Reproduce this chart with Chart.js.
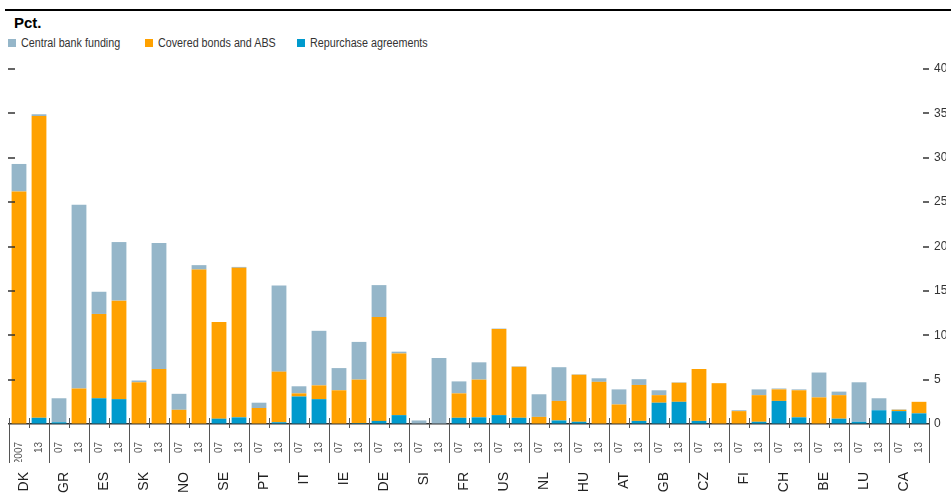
<!DOCTYPE html>
<html lang="en">
<head>
  <meta charset="UTF-8">
  <title>Funding by country</title>
  <script src="https://cdn.jsdelivr.net/npm/chart.js"></script>
  <style>
    body { margin: 0; background: #fff; font-family: 'Liberation Sans', Arial, sans-serif; }
    .wrap { position: relative; width: 951px; height: 502px; }
    .topline { position: absolute; left: 5px; right: 0; top: 9px; height: 2px; background: #000; }
    .unit { position: absolute; left: 14px; top: 14px; font: bold 15px 'Liberation Sans', Arial, sans-serif; color: #000; }
    .legend-item { position: absolute; top: 36px; height: 14px; line-height: 14px; font-size: 12.5px; color: #333; white-space: nowrap; }
    .legend-item i { position: absolute; left: 0; top: 3px; width: 8px; height: 8px; }
    .legend-item span { position: absolute; left: 13px; top: 0; transform: scaleX(0.86); transform-origin: left center; }
    canvas { position: absolute; left: 0; top: 0; }
  </style>
</head>
<body>
  <div class="wrap">
    <div class="topline"></div>
    <div class="unit">Pct.</div>
    <div class="legend-item" style="left:8px"><i style="background:#95b6c9"></i><span>Central bank funding</span></div>
    <div class="legend-item" style="left:145px"><i style="background:#ffa100"></i><span>Covered bonds and ABS</span></div>
    <div class="legend-item" style="left:297px"><i style="background:#009acd"></i><span>Repurchase agreements</span></div>
    <canvas id="fundingChart" width="951" height="502"></canvas>
  </div>

  <script>
    const countries = ['DK', 'GR', 'ES', 'SK', 'NO', 'SE', 'PT', 'IT', 'IE', 'DE', 'SI', 'FR',
                       'US', 'NL', 'HU', 'AT', 'GB', 'CZ', 'FI', 'CH', 'BE', 'LU', 'CA'];
    const yearLabels = ['2007', '13', '07', '13', '07', '13', '07', '13', '07', '13', '07', '13',
                        '07', '13', '07', '13', '07', '13', '07', '13', '07', '13', '07', '13',
                        '07', '13', '07', '13', '07', '13', '07', '13', '07', '13', '07', '13',
                        '07', '13', '07', '13', '07', '13', '07', '13', '07', '13'];

    // values per bar: (07, 13) for each country in order
    const repoAgreements = [0, 0.7, 0.2, 0, 2.9, 2.8, 0, 0, 0, 0, 0.6, 0.75, 0, 0.2, 3.1, 2.8,
                            0, 0.1, 0.35, 1.0, 0, 0, 0.7, 0.75, 1.0, 0.7, 0, 0.4, 0.25, 0,
                            0, 0.35, 2.4, 2.5, 0.35, 0, 0, 0.25, 2.6, 0.75, 0, 0.6, 0.25, 1.55,
                            1.45, 1.2];
    const coveredBonds = [26.2, 34.0, 0, 4.0, 9.5, 11.1, 4.7, 6.2, 1.6, 17.4, 10.9, 16.85, 1.8, 5.7,
                          0.35, 1.55, 3.8, 4.9, 11.7, 6.95, 0, 0, 2.75, 4.25, 9.7, 5.75, 0.8, 2.2,
                          5.3, 4.75, 2.2, 4.05, 0.85, 2.15, 5.85, 4.6, 1.45, 3.0, 1.3, 3.05,
                          3.0, 2.65, 0, 0, 0.15, 1.3];
    const centralBank = [3.1, 0.2, 2.7, 20.7, 2.5, 6.6, 0.2, 14.2, 1.8, 0.5, 0, 0.1, 0.6, 9.7,
                         0.8, 6.15, 2.5, 4.25, 3.6, 0.2, 0.4, 7.45, 1.35, 1.95, 0.05, 0.05,
                         2.55, 3.8, 0.05, 0.4, 1.7, 0.65, 0.55, 0.05, 0, 0, 0.1, 0.65, 0.1, 0.1,
                         2.8, 0.4, 4.45, 1.35, 0.05, 0];

    const axisFont = "'Liberation Sans', Arial, sans-serif";

    // tick marks drawn inward from both sides, and the pair/country separators below the axis
    const tickMarks = {
      id: 'tickMarks',
      afterDraw(chart) {
        const { ctx, chartArea: a, scales: { x, y } } = chart;
        const step = x.getPixelForValue(1) - x.getPixelForValue(0);
        ctx.save();
        ctx.strokeStyle = '#555';
        ctx.lineWidth = 1;
        ctx.beginPath();
        for (let i = 0; i <= yearLabels.length; i++) {
          const px = Math.round(x.getPixelForValue(0) - step / 2 + i * step) + 0.5;
          ctx.moveTo(px, a.bottom - 6);
          ctx.lineTo(px, a.bottom + (i % 2 === 0 ? 39 : 4));
        }
        ctx.stroke();
        ctx.strokeStyle = '#333';
        ctx.lineWidth = 1.5;
        ctx.beginPath();
        y.ticks.forEach(t => {
          if (t.value <= 0) return;
          const py = Math.round(y.getPixelForValue(t.value));
          ctx.moveTo(a.left - 1, py);
          ctx.lineTo(a.left + 6, py);
          ctx.moveTo(a.right - 6, py);
          ctx.lineTo(a.right, py);
        });
        ctx.stroke();
        ctx.restore();
      }
    };

    new Chart(document.getElementById('fundingChart'), {
      type: 'bar',
      data: {
        labels: yearLabels,
        datasets: [
          { label: 'Repurchase agreements', data: repoAgreements, backgroundColor: '#009acd' },
          { label: 'Covered bonds and ABS', data: coveredBonds, backgroundColor: '#ffa100' },
          { label: 'Central bank funding', data: centralBank, backgroundColor: '#95b6c9' }
        ]
      },
      options: {
        responsive: false,
        animation: false,
        barPercentage: 0.74,
        categoryPercentage: 1,
        layout: { padding: { left: 9, right: 5, top: 69, bottom: 0 } },
        plugins: { legend: { display: false }, tooltip: { enabled: false } },
        scales: {
          x: {
            stacked: true,
            weight: 0,
            afterFit: s => { s.height = 38; },
            grid: { display: false, drawTicks: false },
            border: { display: true, color: '#333', width: 1.5 },
            ticks: {
              autoSkip: false, minRotation: 90, maxRotation: 90, padding: 18,
              color: '#555', font: { family: axisFont, size: 10 }
            }
          },
          x2: {
            type: 'category',
            labels: countries,
            position: 'bottom',
            weight: 1,
            offset: true,
            afterFit: s => { s.height = 40; },
            grid: { display: false, drawTicks: false },
            border: { display: false },
            ticks: {
              autoSkip: false, minRotation: 90, maxRotation: 90, padding: 10, labelOffset: -5,
              color: '#222', font: { family: axisFont, size: 14 }
            }
          },
          y: {
            stacked: true,
            position: 'right',
            min: 0,
            max: 40,
            afterFit: s => { s.width = 17; },
            grid: { drawOnChartArea: false, drawTicks: false },
            border: { display: false },
            ticks: { stepSize: 5, padding: 5, color: '#333', font: { family: axisFont, size: 12 } }
          }
        }
      },
      plugins: [tickMarks]
    });
  </script>
</body>
</html>
